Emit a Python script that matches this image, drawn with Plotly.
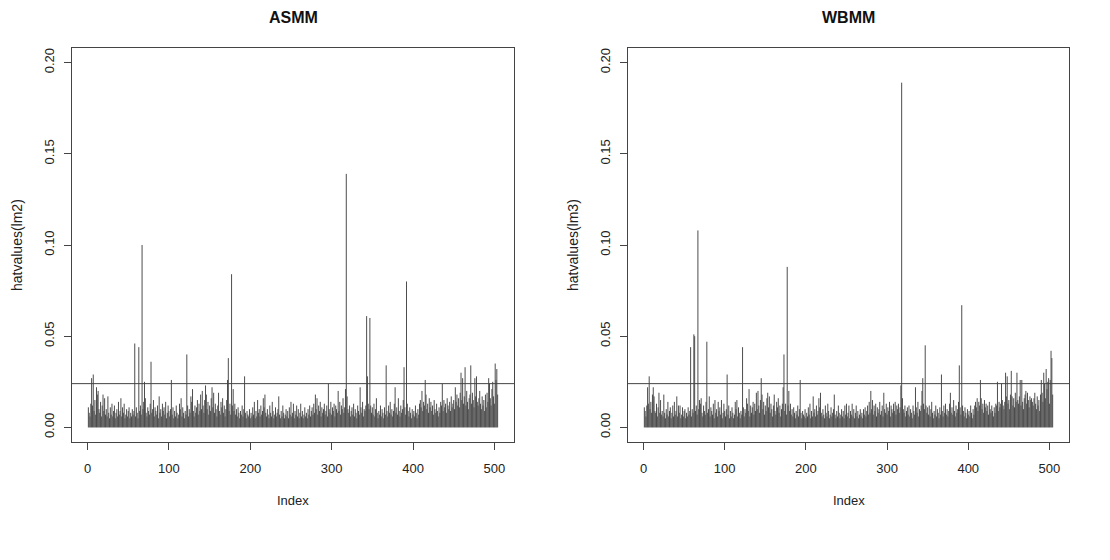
import plotly.graph_objects as go

# ---- data ----
panel_titles = ["ASMM", "WBMM"]
y_labels = ["hatvalues(lm2)", "hatvalues(lm3)"]
x_label = "Index"
cutoff = 0.024
x_ticks = [0, 100, 200, 300, 400, 500]
y_ticks = [0.00, 0.05, 0.10, 0.15, 0.20]
y_tick_text = ["0.00", "0.05", "0.10", "0.15", "0.20"]

hat_asmm = [
    .011,.008,.006,.013,.027,.012,.029,.009,.015,.007,.022,.018,.020,.010,.008,.014,.006,.012,.018,.009,
    .016,.007,.010,.006,.017,.008,.005,.011,.007,.013,.006,.009,.012,.005,.008,.010,.006,.014,.007,.009,
    .016,.006,.011,.008,.013,.005,.007,.010,.006,.009,.011,.005,.008,.006,.010,.007,.009,.046,.006,.011,
    .008,.005,.044,.009,.012,.007,.100,.010,.014,.025,.016,.008,.006,.011,.009,.007,.013,.036,.008,.010,
    .015,.006,.011,.009,.007,.012,.005,.017,.008,.010,.006,.013,.009,.011,.007,.014,.005,.008,.012,.009,
    .006,.010,.026,.007,.011,.005,.009,.006,.012,.008,.005,.007,.013,.010,.016,.006,.011,.008,.005,.009,
    .007,.040,.012,.006,.010,.008,.017,.014,.021,.009,.006,.012,.008,.011,.015,.007,.013,.009,.018,.010,
    .020,.012,.008,.015,.023,.018,.010,.014,.007,.012,.009,.016,.022,.011,.019,.008,.013,.010,.006,.012,
    .019,.009,.007,.014,.011,.016,.008,.012,.006,.010,.015,.026,.038,.009,.013,.007,.084,.012,.021,.009,
    .013,.007,.010,.006,.011,.008,.005,.009,.007,.012,.006,.010,.028,.008,.005,.009,.007,.006,.010,.005,
    .008,.006,.011,.007,.014,.005,.009,.006,.015,.008,.010,.006,.012,.007,.009,.016,.011,.018,.008,.006,
    .010,.007,.005,.012,.008,.006,.014,.009,.005,.007,.011,.006,.008,.010,.017,.007,.005,.009,.006,.012,
    .008,.005,.007,.010,.006,.009,.005,.011,.007,.014,.006,.008,.013,.005,.009,.007,.012,.006,.010,.005,
    .008,.013,.006,.009,.005,.007,.011,.006,.008,.005,.010,.007,.012,.006,.009,.011,.007,.013,.008,.018,
    .010,.016,.007,.012,.009,.014,.006,.011,.008,.010,.013,.007,.009,.012,.006,.024,.010,.008,.014,.007,
    .011,.009,.013,.006,.012,.010,.008,.020,.009,.014,.007,.012,.010,.016,.008,.011,.021,.139,.017,.010,
    .008,.012,.006,.009,.011,.007,.013,.006,.010,.008,.005,.012,.009,.007,.022,.011,.008,.014,.006,.010,
    .009,.012,.061,.028,.013,.010,.060,.012,.008,.011,.007,.013,.006,.010,.016,.008,.005,.009,.007,.012,
    .006,.010,.008,.005,.011,.007,.034,.009,.006,.012,.008,.014,.007,.010,.006,.009,.013,.022,.008,.011,
    .007,.016,.009,.006,.012,.008,.010,.015,.033,.011,.007,.080,.013,.009,.006,.011,.008,.005,.010,.007,
    .009,.006,.012,.008,.005,.010,.007,.013,.015,.011,.020,.009,.014,.012,.026,.018,.010,.013,.008,.016,
    .011,.014,.009,.012,.007,.015,.010,.008,.013,.009,.006,.011,.008,.014,.012,.024,.009,.015,.011,.013,
    .008,.016,.012,.010,.014,.009,.017,.011,.013,.015,.010,.022,.014,.018,.012,.016,.011,.019,.030,.015,
    .027,.013,.017,.033,.012,.020,.014,.010,.016,.018,.034,.013,.019,.015,.011,.027,.017,.028,.014,.012,
    .016,.020,.013,.010,.017,.012,.015,.009,.018,.011,.019,.014,.027,.024,.016,.012,.021,.025,.017,.013,
    .035,.026,.032,.018,
]

hat_wbmm = [
    .011,.009,.006,.012,.022,.013,.028,.010,.014,.008,.018,.022,.017,.009,.008,.013,.006,.011,.019,.008,
    .015,.007,.009,.006,.018,.008,.005,.010,.007,.014,.006,.009,.011,.005,.008,.012,.006,.014,.007,.009,
    .017,.006,.012,.008,.012,.005,.007,.011,.006,.009,.010,.005,.008,.006,.011,.007,.009,.044,.006,.010,
    .008,.051,.050,.009,.012,.007,.108,.010,.015,.013,.016,.008,.006,.012,.009,.007,.014,.047,.008,.010,
    .017,.006,.011,.009,.007,.013,.005,.015,.008,.010,.006,.014,.009,.011,.007,.015,.005,.008,.013,.009,
    .006,.010,.029,.007,.012,.005,.009,.006,.011,.008,.005,.007,.014,.010,.015,.006,.011,.008,.005,.009,
    .007,.044,.011,.006,.010,.008,.016,.013,.009,.021,.006,.012,.008,.011,.014,.007,.013,.009,.019,.010,
    .020,.012,.008,.015,.027,.018,.010,.014,.007,.012,.009,.016,.019,.011,.017,.008,.013,.010,.006,.012,
    .018,.009,.007,.014,.011,.016,.008,.012,.006,.010,.013,.022,.040,.009,.013,.007,.088,.012,.020,.009,
    .013,.007,.010,.006,.011,.008,.005,.009,.007,.012,.006,.010,.026,.008,.005,.009,.007,.006,.010,.005,
    .008,.006,.011,.007,.013,.005,.009,.006,.017,.008,.010,.006,.012,.007,.009,.016,.011,.019,.008,.006,
    .010,.007,.005,.012,.008,.006,.013,.009,.005,.007,.011,.006,.008,.010,.018,.007,.005,.009,.006,.012,
    .008,.005,.007,.010,.006,.009,.005,.012,.007,.013,.006,.008,.012,.005,.009,.007,.013,.006,.010,.005,
    .008,.012,.006,.009,.005,.007,.010,.006,.008,.005,.010,.007,.011,.006,.009,.012,.007,.014,.008,.020,
    .010,.015,.007,.012,.009,.013,.006,.011,.008,.010,.014,.007,.009,.012,.006,.019,.010,.008,.013,.007,
    .011,.009,.014,.006,.012,.010,.008,.013,.009,.014,.007,.012,.010,.013,.008,.011,.023,.189,.016,.010,
    .008,.012,.006,.009,.011,.007,.012,.006,.010,.008,.005,.012,.009,.007,.022,.011,.008,.014,.006,.010,
    .009,.012,.020,.027,.013,.010,.045,.012,.008,.011,.007,.012,.006,.010,.014,.008,.005,.009,.007,.012,
    .006,.010,.008,.005,.011,.007,.029,.009,.006,.012,.008,.013,.007,.010,.006,.009,.013,.019,.008,.011,
    .007,.015,.009,.006,.012,.008,.010,.014,.034,.011,.007,.067,.012,.009,.006,.011,.008,.005,.010,.007,
    .009,.006,.012,.008,.005,.010,.007,.012,.014,.011,.016,.009,.014,.012,.026,.016,.010,.013,.008,.015,
    .011,.013,.009,.012,.007,.014,.010,.008,.012,.009,.006,.011,.008,.013,.012,.025,.009,.014,.011,.013,
    .024,.015,.012,.010,.014,.030,.017,.028,.013,.015,.010,.018,.031,.017,.012,.016,.011,.019,.014,.030,
    .015,.013,.017,.026,.012,.026,.014,.010,.016,.018,.020,.013,.019,.015,.011,.017,.015,.016,.014,.012,
    .016,.019,.013,.010,.017,.012,.015,.009,.018,.026,.019,.014,.030,.024,.016,.032,.021,.025,.027,.013,
    .026,.042,.038,.018,
]

series = [hat_asmm, hat_wbmm]

# ---- layout geometry (pixels) ----
W, H = 1110, 560
boxes_x = [(72, 514), (628, 1069)]
box_top, box_bottom = 48, 442
title_x = [293, 848]
ylab_x = [17, 573]

def px(v):
    return v / W

def py(v):
    return 1 - v / H

fig = go.Figure()
line_col = "#444444"
font_main = "Liberation Sans, Arial, sans-serif"

for k, vals in enumerate(series):
    n = len(vals)
    xs, ys = [], []
    for i, v in enumerate(vals, start=1):
        xs += [i, i, None]
        ys += [0, v, None]
    xa = "x" if k == 0 else "x2"
    ya = "y" if k == 0 else "y2"
    fig.add_trace(go.Scatter(x=xs, y=ys, mode="lines",
                             line=dict(color="#4d4d4d", width=1),
                             xaxis=xa, yaxis=ya, showlegend=False,
                             hoverinfo="skip"))
    pad = (n - 1) * 0.04
    xrange = [1 - pad, n + pad]
    yr = [y_ticks[0] - 0.04 * (y_ticks[-1] - y_ticks[0]),
          y_ticks[-1] + 0.04 * (y_ticks[-1] - y_ticks[0])]
    axis_common = dict(showline=True, mirror=True, linecolor=line_col, linewidth=1,
                       ticks="outside", ticklen=7, tickcolor=line_col, tickwidth=1,
                       showgrid=False, zeroline=False,
                       tickfont=dict(family=font_main, size=13, color="#222222"))
    xkey = "xaxis" if k == 0 else "xaxis2"
    ykey = "yaxis" if k == 0 else "yaxis2"
    fig.update_layout(**{
        xkey: dict(domain=[px(boxes_x[k][0]), px(boxes_x[k][1])], range=xrange,
                   tickvals=x_ticks, anchor=ya, ticklabelstandoff=7, **axis_common),
        ykey: dict(domain=[py(box_bottom), py(box_top)], range=yr,
                   tickvals=y_ticks, ticktext=y_tick_text, tickangle=-90,
                   anchor=xa, ticklabelstandoff=5, **axis_common),
    })
    # cutoff line across the plot region
    fig.add_shape(type="line", xref=f"{xa} domain", yref=ya, x0=0, x1=1,
                  y0=cutoff, y1=cutoff, line=dict(color=line_col, width=1))
    # titles
    fig.add_annotation(text=f"<b>{panel_titles[k]}</b>", xref="paper", yref="paper",
                       x=px(title_x[k]), y=py(17), showarrow=False,
                       font=dict(family=font_main, size=16, color="#111111"),
                       xanchor="center", yanchor="middle")
    fig.add_annotation(text=x_label, xref="paper", yref="paper",
                       x=px((boxes_x[k][0] + boxes_x[k][1]) / 2), y=py(500),
                       showarrow=False,
                       font=dict(family=font_main, size=13, color="#222222"),
                       xanchor="center", yanchor="middle")
    fig.add_annotation(text=y_labels[k], xref="paper", yref="paper",
                       x=px(ylab_x[k]), y=py((box_top + box_bottom) / 2), textangle=-90,
                       showarrow=False,
                       font=dict(family=font_main, size=14, color="#222222"),
                       xanchor="center", yanchor="middle")

fig.update_layout(width=W, height=H, autosize=False,
                  margin=dict(l=0, r=0, t=0, b=0),
                  paper_bgcolor="white", plot_bgcolor="white")

fig.write_html("out.html", config={"displayModeBar": False},
               post_script="document.body.style.margin='0';document.body.style.overflow='hidden';")
